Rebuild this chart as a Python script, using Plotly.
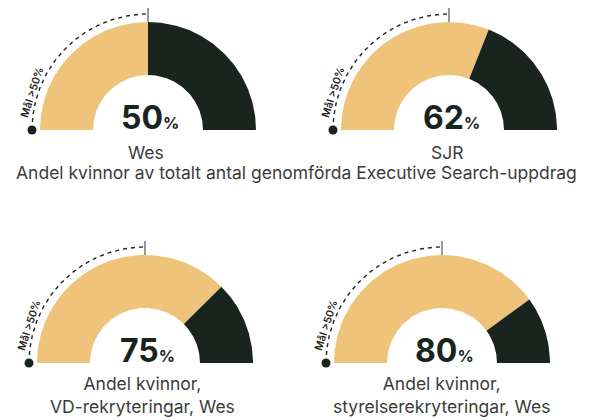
import numpy as np
import plotly.graph_objects as go

# ---- data ----
values = [50, 62, 75, 80]
sub_labels = ["Wes", "SJR", "Andel kvinnor,<br>VD-rekryteringar, Wes", "Andel kvinnor,<br>styrelserekryteringar, Wes"]
shared_label = "Andel kvinnor av totalt antal genomförda Executive Search-uppdrag"
target_label = "Mål >50%"
target_value = 50

# ---- layout ----
W, H = 593, 420
centers = [(148, 130), (449, 130), (145, 363), (442, 363)]
R_OUT, R_IN, R_DASH = 108, 55, 116
GOLD = "#EFC47A"
DARK = "#1A241F"
TEXT = "#3b3b3b"
FONT = "Inter"
LAB_SIZE = 17.5

def ang(v):
    return np.pi - np.pi * v / 100.0

def sector(cx, cy, v0, v1, n=120):
    a = np.linspace(ang(v0), ang(v1), n)
    xo = cx + R_OUT * np.cos(a); yo = cy - R_OUT * np.sin(a)
    xi = cx + R_IN * np.cos(a[::-1]); yi = cy - R_IN * np.sin(a[::-1])
    x = np.concatenate([xo, xi, xo[:1]]); y = np.concatenate([yo, yi, yo[:1]])
    return x, y

fig = go.Figure()
annotations = []
for (cx, cy), v in zip(centers, values):
    x, y = sector(cx, cy, 0, v)
    fig.add_trace(go.Scatter(x=x, y=y, fill="toself", fillcolor=GOLD, mode="lines",
                             line=dict(width=0, color=GOLD), hoverinfo="skip"))
    x, y = sector(cx, cy, v, 100)
    fig.add_trace(go.Scatter(x=x, y=y, fill="toself", fillcolor=DARK, mode="lines",
                             line=dict(width=0, color=DARK), hoverinfo="skip"))
    # dashed target arc
    a = np.linspace(ang(0), ang(target_value), 100)
    fig.add_trace(go.Scatter(x=cx + R_DASH * np.cos(a), y=cy - R_DASH * np.sin(a), mode="lines",
                             line=dict(color="#222", width=1.4, dash="4px,4px"), hoverinfo="skip"))
    # tick at target
    at = ang(target_value)
    fig.add_trace(go.Scatter(x=[cx + (R_OUT) * np.cos(at), cx + (R_OUT + 14) * np.cos(at)],
                             y=[cy - (R_OUT) * np.sin(at), cy - (R_OUT + 14) * np.sin(at)],
                             mode="lines", line=dict(color="#555", width=1.2), hoverinfo="skip"))
    # start dot
    fig.add_trace(go.Scatter(x=[cx + R_DASH * np.cos(ang(0))], y=[cy - R_DASH * np.sin(ang(0))],
                             mode="markers", marker=dict(color=DARK, size=9), hoverinfo="skip"))
    # target text along arc
    ta = np.deg2rad(162)
    annotations.append(dict(x=cx + 122 * np.cos(ta), y=cy - 122 * np.sin(ta), text=target_label,
                            textangle=-72, showarrow=False, xref="x", yref="y",
                            font=dict(family=FONT, size=10.5, color="#222", weight=600)))
    # value
    annotations.append(dict(x=cx + 2, y=cy + 9, yanchor="bottom", xanchor="center", showarrow=False,
                            xref="x", yref="y",
                            text=f"<b>{v}</b><span style='font-size:16px'><b>%</b></span>",
                            font=dict(family=FONT, size=32, color=DARK)))

# sub labels
annotations.append(dict(x=146, y=152, text=sub_labels[0], showarrow=False, xref="x", yref="y",
                        font=dict(family=FONT, size=LAB_SIZE, color=TEXT)))
annotations.append(dict(x=447, y=152, text=sub_labels[1], showarrow=False, xref="x", yref="y",
                        font=dict(family=FONT, size=LAB_SIZE, color=TEXT)))
annotations.append(dict(x=296, y=172, text=shared_label, showarrow=False, xref="x", yref="y",
                        font=dict(family=FONT, size=LAB_SIZE, color=TEXT)))
annotations.append(dict(x=142, y=395, text=sub_labels[2], showarrow=False, xref="x", yref="y",
                        font=dict(family=FONT, size=LAB_SIZE, color=TEXT)))
annotations.append(dict(x=441, y=395, text=sub_labels[3], showarrow=False, xref="x", yref="y",
                        font=dict(family=FONT, size=LAB_SIZE, color=TEXT)))

fig.update_layout(width=W, height=H, margin=dict(l=0, r=0, t=0, b=0),
                  paper_bgcolor="white", plot_bgcolor="white", showlegend=False,
                  annotations=annotations,
                  xaxis=dict(range=[0, W], visible=False, fixedrange=True),
                  yaxis=dict(range=[H, 0], visible=False, fixedrange=True))
fig.write_html("out.html", config={"displayModeBar": False},
               post_script="document.body.style.margin='0';document.body.style.overflow='hidden';")
